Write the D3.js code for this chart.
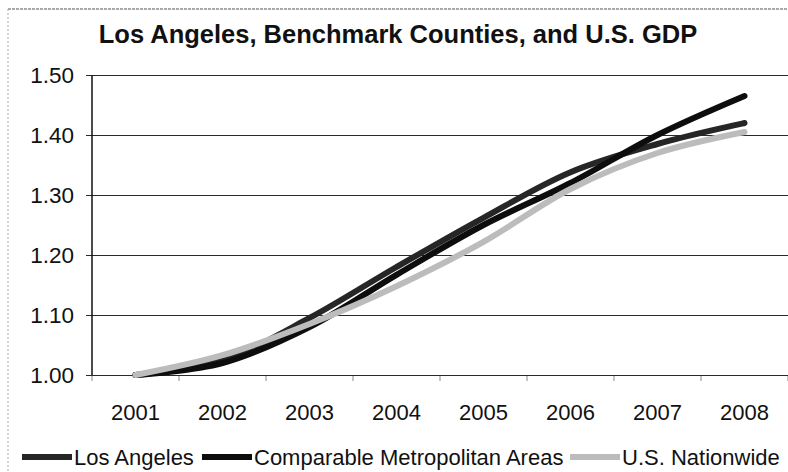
<!DOCTYPE html>
<html>
<head>
<meta charset="utf-8">
<script src="https://cdn.jsdelivr.net/npm/d3@7"></script>
<style>
  body { margin: 0; background: #fff; }
  text { font-family: "Liberation Sans", Arial, sans-serif; fill: #111; }
</style>
</head>
<body>
<script>
// Datos
const anios = ["2001", "2002", "2003", "2004", "2005", "2006", "2007", "2008"];
const losAngeles = [1.00, 1.025, 1.095, 1.18, 1.262, 1.338, 1.385, 1.42];
const comparables = [1.00, 1.02, 1.08, 1.167, 1.25, 1.32, 1.40, 1.465];
const nacional = [1.00, 1.033, 1.085, 1.148, 1.222, 1.31, 1.37, 1.405];
const ticksY = [1.00, 1.10, 1.20, 1.30, 1.40, 1.50];
const series = [
  { nombre: "Los Angeles", valores: losAngeles, color: "#262626" },
  { nombre: "Comparable Metropolitan Areas", valores: comparables, color: "#0d0d0d" },
  { nombre: "U.S. Nationwide", valores: nacional, color: "#bcbcbc" }
];

const ancho = 788, alto = 472;
const svg = d3.select("body").append("svg")
  .attr("width", ancho).attr("height", alto);

// Borde punteado del grafico (escaneado)
svg.append("line").attr("x1", 8).attr("x2", ancho).attr("y1", 9).attr("y2", 9)
  .attr("stroke", "#555").attr("stroke-dasharray", "3,1");
svg.append("line").attr("x1", 8).attr("x2", 8).attr("y1", 9).attr("y2", alto)
  .attr("stroke", "#aaa").attr("stroke-dasharray", "2,2");

// Titulo
svg.append("text")
  .attr("x", 398).attr("y", 43)
  .attr("text-anchor", "middle")
  .attr("font-size", 25.5).attr("font-weight", "bold")
  .text("Los Angeles, Benchmark Counties, and U.S. GDP");

// Escalas
const x = d3.scalePoint().domain(anios).range([92, 788]).padding(0.5);
const xBanda = d3.scaleBand().domain(anios).range([92, 788]);
const y = d3.scaleLinear().domain([1.0, 1.5]).range([375, 75]);

// Lineas de grilla y etiquetas del eje Y
const ejeY = svg.append("g")
  .attr("transform", "translate(92,0)")
  .call(d3.axisLeft(y).tickValues(ticksY).tickFormat(d3.format(".2f"))
    .tickSize(-(788 - 92)).tickPadding(18));
ejeY.select(".domain").remove();
ejeY.selectAll(".tick line")
  .attr("x1", -6).attr("stroke", "#2a2a2a").attr("stroke-width", 1.2);
ejeY.selectAll(".tick text")
  .attr("font-size", 22.5).attr("fill", "#111").attr("dy", "0.35em")
  .attr("font-family", "Liberation Sans, Arial, sans-serif");

// Linea vertical del eje
svg.append("line").attr("x1", 92).attr("x2", 92).attr("y1", 75).attr("y2", 375)
  .attr("stroke", "#111").attr("stroke-width", 1.5);

// Eje X: marcas entre categorias
const ejeX = svg.append("g").attr("transform", "translate(0,375)");
ejeX.selectAll("line")
  .data(anios.concat(["fin"]))
  .join("line")
  .attr("x1", (d, i) => 92 + i * xBanda.step())
  .attr("x2", (d, i) => 92 + i * xBanda.step())
  .attr("y1", 1).attr("y2", 6)
  .attr("stroke", "#888");
ejeX.selectAll("text")
  .data(anios)
  .join("text")
  .attr("x", d => x(d))
  .attr("y", 45)
  .attr("text-anchor", "middle")
  .attr("font-size", 22)
  .text(d => d);

// Lineas suavizadas
const linea = d3.line()
  .x((d, i) => x(anios[i]))
  .y(d => y(d))
  .curve(d3.curveCatmullRom);

svg.selectAll("path.serie")
  .data(series)
  .join("path")
  .attr("class", "serie")
  .attr("d", d => linea(d.valores))
  .attr("fill", "none")
  .attr("stroke", d => d.color)
  .attr("stroke-width", 6)
  .attr("stroke-linecap", "round");

// Leyenda
const posLeyenda = [22, 202, 570];
const leyenda = svg.selectAll("g.leyenda")
  .data(series)
  .join("g")
  .attr("class", "leyenda")
  .attr("transform", (d, i) => `translate(${posLeyenda[i]},457)`);
leyenda.append("line")
  .attr("x1", 0).attr("x2", 50)
  .attr("stroke", d => d.color).attr("stroke-width", 6);
leyenda.append("text")
  .attr("x", 52).attr("dy", "0.35em")
  .attr("font-size", 22)
  .text(d => d.nombre);
</script>
</body>
</html>
